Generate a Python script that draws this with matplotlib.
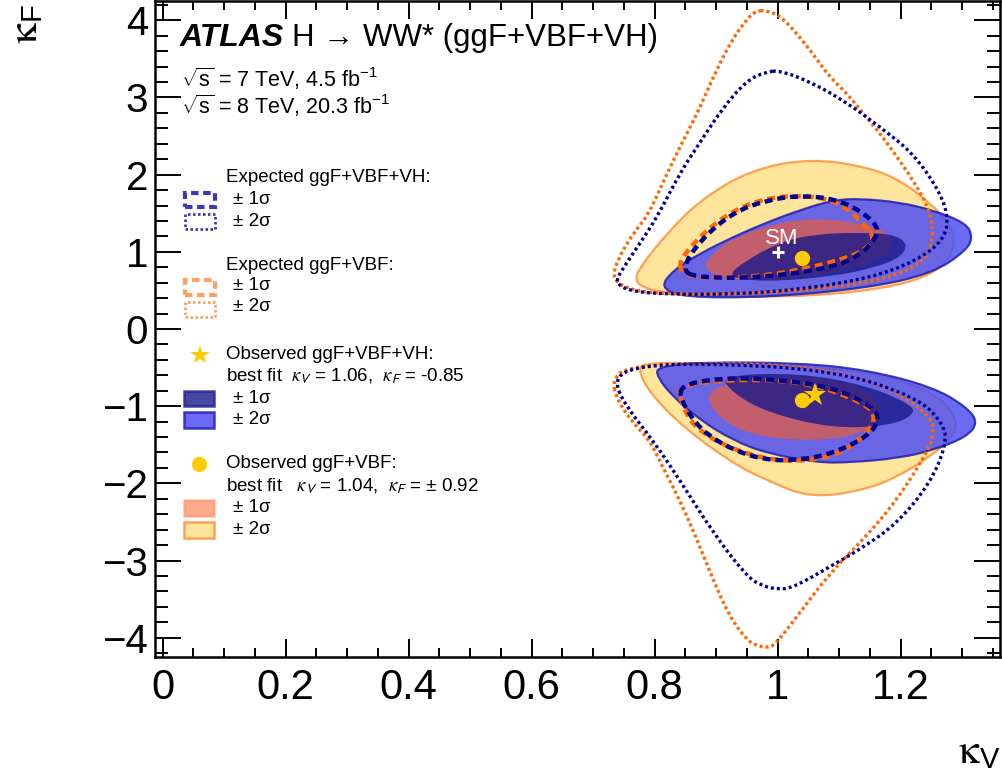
import matplotlib
matplotlib.use("Agg")
import matplotlib.pyplot as plt
from matplotlib import font_manager
from matplotlib.patches import PathPatch, Rectangle
from matplotlib.path import Path
from matplotlib.ticker import MultipleLocator

# contour vertices, (kappa_V, kappa_F)
# observed ggF+VBF+VH, 1 and 2 sigma
obs_vh_1s_pos = [(0.915, 0.67), (0.950, 0.90), (1.009, 1.14), (1.064, 1.23), (1.130, 1.25),
                 (1.188, 1.23), (1.212, 1.10), (1.200, 0.93), (1.160, 0.80), (1.090, 0.68),
                 (0.982, 0.61)]
obs_vh_1s_neg = [(0.906, -0.60), (1.036, -0.57), (1.145, -0.73), (1.220, -0.99), (1.220, -1.12),
                 (1.183, -1.25), (1.090, -1.29), (0.982, -1.08), (0.927, -0.83)]
obs_vh_2s_pos = [(0.809, 0.54), (0.846, 0.41), (0.982, 0.41), (1.145, 0.53), (1.252, 0.72),
                 (1.307, 1.02), (1.317, 1.19), (1.307, 1.37), (1.252, 1.54), (1.199, 1.64),
                 (1.134, 1.69), (1.090, 1.67), (1.036, 1.54), (0.982, 1.38), (0.927, 1.19),
                 (0.874, 0.98), (0.830, 0.76)]
obs_vh_2s_neg = [(0.804, -0.49), (0.874, -0.43), (1.036, -0.44), (1.145, -0.53), (1.252, -0.75),
                 (1.307, -1.01), (1.326, -1.21), (1.307, -1.40), (1.252, -1.57), (1.199, -1.67),
                 (1.118, -1.73), (1.064, -1.73), (0.982, -1.61), (0.927, -1.44), (0.874, -1.18),
                 (0.830, -0.88), (0.804, -0.62)]

# observed ggF+VBF, 1 and 2 sigma
obs_vbf_1s_pos = [(0.877, 0.82), (0.905, 1.05), (0.930, 1.18), (0.980, 1.33), (1.036, 1.42),
                  (1.090, 1.42), (1.140, 1.36), (1.180, 1.24), (1.190, 1.10), (1.170, 0.93),
                  (1.120, 0.78), (1.040, 0.66), (0.960, 0.62), (0.900, 0.68)]
obs_vbf_1s_neg = [(0.879, -0.82), (0.939, -0.66), (1.036, -0.60), (1.134, -0.73), (1.175, -1.05),
                  (1.150, -1.31), (1.085, -1.45), (0.971, -1.41), (0.906, -1.18)]
obs_vbf_2s_pos = [(1.053, 2.21), (1.145, 2.10), (1.199, 1.93), (1.248, 1.63), (1.277, 1.39),
                  (1.289, 1.15), (1.277, 0.87), (1.231, 0.63), (1.134, 0.48), (1.004, 0.41),
                  (0.874, 0.43), (0.809, 0.48), (0.781, 0.54), (0.768, 0.63), (0.776, 0.80),
                  (0.820, 1.24), (0.874, 1.67), (0.955, 2.06)]
obs_vbf_2s_neg = [(0.771, -0.50), (0.792, -0.83), (0.846, -1.27), (0.927, -1.74), (0.982, -1.96),
                  (1.053, -2.19), (1.139, -2.09), (1.194, -1.92), (1.252, -1.63), (1.285, -1.40),
                  (1.293, -1.18), (1.264, -0.88), (1.199, -0.66), (1.118, -0.53), (1.004, -0.47),
                  (0.874, -0.44), (0.792, -0.44)]

# expected ggF+VBF+VH
exp_vh_1s_pos = [(0.842, 0.76), (0.874, 1.15), (0.927, 1.51), (0.982, 1.67), (1.036, 1.73),
                 (1.090, 1.69), (1.134, 1.54), (1.166, 1.31), (1.155, 1.13), (1.134, 0.96),
                 (1.090, 0.80), (0.982, 0.67), (0.874, 0.66)]
exp_vh_1s_neg = [(0.842, -0.73), (0.901, -0.64), (0.982, -0.64), (1.090, -0.75), (1.155, -1.01),
                 (1.166, -1.18), (1.145, -1.40), (1.090, -1.61), (1.036, -1.70), (0.982, -1.70),
                 (0.927, -1.57), (0.874, -1.31), (0.842, -0.92)]
exp_vh_2s_pos = [(1.004, 3.35), (1.057, 3.19), (1.113, 2.93), (1.166, 2.62), (1.220, 2.28),
                 (1.262, 1.80), (1.278, 1.45), (1.270, 1.15), (1.225, 0.88), (1.150, 0.66),
                 (1.036, 0.51), (0.927, 0.45), (0.820, 0.45), (0.760, 0.49), (0.735, 0.60),
                 (0.748, 0.78), (0.776, 1.11), (0.804, 1.45), (0.841, 2.02), (0.869, 2.36),
                 (0.911, 2.87), (0.950, 3.22), (0.980, 3.33)]
exp_vh_2s_neg = [(0.733, -0.66), (0.765, -0.49), (0.874, -0.44), (1.090, -0.53), (1.226, -0.88),
                 (1.269, -1.22), (1.275, -1.48), (1.248, -2.00), (1.194, -2.52), (1.139, -2.83),
                 (1.085, -3.08), (1.030, -3.33), (1.004, -3.38), (0.975, -3.33), (0.950, -3.21),
                 (0.895, -2.64), (0.841, -1.96), (0.797, -1.44), (0.754, -1.01)]

# expected ggF+VBF
exp_vbf_1s_pos = [(0.838, 0.86), (0.874, 1.21), (0.927, 1.54), (0.988, 1.71), (1.053, 1.73),
                  (1.102, 1.63), (1.134, 1.41), (1.158, 1.19), (1.147, 1.06), (1.118, 0.93),
                  (1.036, 0.76), (0.955, 0.67), (0.874, 0.66), (0.846, 0.72)]
exp_vbf_1s_neg = [(0.838, -0.75), (0.901, -0.66), (1.036, -0.66), (1.145, -0.96), (1.161, -1.18),
                  (1.134, -1.44), (1.090, -1.66), (1.009, -1.73), (0.927, -1.57), (0.862, -1.27),
                  (0.842, -0.92)]
exp_vbf_2s_pos = [(0.979, 4.13), (1.004, 4.06), (1.031, 3.83), (1.057, 3.57), (1.085, 3.26),
                  (1.113, 3.05), (1.139, 2.79), (1.166, 2.54), (1.194, 2.23), (1.220, 1.93),
                  (1.245, 1.58), (1.253, 1.28), (1.248, 1.02), (1.231, 0.85), (1.199, 0.72),
                  (1.145, 0.60), (1.036, 0.50), (0.927, 0.45), (0.820, 0.45), (0.762, 0.50),
                  (0.731, 0.64), (0.739, 0.89), (0.765, 1.24), (0.789, 1.47), (0.813, 1.89),
                  (0.841, 2.36), (0.869, 2.79), (0.895, 3.26), (0.922, 3.70), (0.950, 4.02),
                  (0.965, 4.12)]
exp_vbf_2s_neg = [(0.731, -0.66), (0.755, -0.49), (0.874, -0.44), (1.036, -0.47), (1.171, -0.70),
                  (1.252, -1.14), (1.252, -1.35), (1.248, -1.53), (1.194, -2.22), (1.139, -2.73),
                  (1.085, -3.16), (1.031, -3.73), (0.995, -4.10), (0.982, -4.13), (0.965, -4.10),
                  (0.950, -4.03), (0.922, -3.73), (0.895, -3.25), (0.869, -2.73), (0.841, -2.22),
                  (0.813, -1.79), (0.792, -1.44), (0.765, -1.22), (0.739, -0.92)]

sm_point = (1.0, 1.0)
best_fit_vbf = [(1.04, 0.92), (1.04, -0.92)]
best_fit_vh = (1.06, -0.85)

x_ticks = [0, 0.2, 0.4, 0.6, 0.8, 1, 1.2]
x_tick_labels = ["0", "0.2", "0.4", "0.6", "0.8", "1", "1.2"]
y_ticks = [-4, -3, -2, -1, 0, 1, 2, 3, 4]
y_tick_labels = ["\u22124", "\u22123", "\u22122", "\u22121", "0", "1", "2", "3", "4"]

W, H = 1003, 771

plt.rcParams["font.family"] = ["Liberation Sans", "DejaVu Sans"]
plt.rcParams["mathtext.fontset"] = "custom"
plt.rcParams["mathtext.rm"] = "Liberation Sans"
plt.rcParams["mathtext.it"] = "Liberation Sans:italic"
plt.rcParams["mathtext.bf"] = "Liberation Sans:bold"

names = {f.name for f in font_manager.fontManager.ttflist}
tick_font = "Liberation Sans Narrow" if "Liberation Sans Narrow" in names else "Liberation Sans"

yellow_fc, yellow_ec = "#ffe49c", "#ffa050"
blue2_fc, blue2_ec = "#5050f0", "#2020b0"
salmon_fc, salmon_ec = "#ff5a1e", "#ff8040"
dark_fc, dark_ec = "#1a1a8a", "#1a1a99"
navy, orange = "#000090", "#ff6600"
dashed = (0, (1.8, 1.1))
dotted = (0, (0.9, 0.9))


def smooth_path(pts):
    # closed quadratic bezier: read vertices act as control points
    n = len(pts)
    mids = [((pts[i][0] + pts[(i + 1) % n][0]) / 2, (pts[i][1] + pts[(i + 1) % n][1]) / 2)
            for i in range(n)]
    verts = [mids[-1]]
    codes = [Path.MOVETO]
    for i in range(n):
        verts += [pts[i], mids[i]]
        codes += [Path.CURVE3, Path.CURVE3]
    verts.append(mids[-1])
    codes.append(Path.CLOSEPOLY)
    return Path(verts, codes)


fig = plt.figure(figsize=(W / 100, H / 100), dpi=100)
ax = fig.add_axes([155 / W, 1 - 657 / H, (1000 - 155) / W, (657 - 1) / H])


def region(pts, fc, ec, alpha, lw, z):
    ax.add_patch(PathPatch(smooth_path(pts), fc=fc, ec=ec, alpha=alpha, lw=lw, zorder=z))


def contour_line(pts, color, style, lw, z):
    ax.add_patch(PathPatch(smooth_path(pts), fill=False, ec=color, ls=style, lw=lw, zorder=z))


for pts in (obs_vbf_2s_pos, obs_vbf_2s_neg):
    region(pts, yellow_fc, yellow_ec, 1.0, 1.6, 1)
for pts in (obs_vh_2s_pos, obs_vh_2s_neg):
    region(pts, blue2_fc, blue2_ec, 0.85, 1.6, 2)
for pts in (obs_vbf_1s_pos, obs_vbf_1s_neg):
    region(pts, salmon_fc, "none", 0.6, 0, 3)
for pts in (obs_vh_1s_pos, obs_vh_1s_neg):
    region(pts, dark_fc, "none", 0.8, 0, 4)

for pts in (exp_vbf_2s_pos, exp_vbf_2s_neg):
    contour_line(pts, orange, dotted, 2.4, 5)
for pts in (exp_vh_2s_pos, exp_vh_2s_neg):
    contour_line(pts, navy, dotted, 2.4, 6)
for pts in (exp_vbf_1s_pos, exp_vbf_1s_neg):
    contour_line(pts, orange, dashed, 3.2, 7)
for pts in (exp_vh_1s_pos, exp_vh_1s_neg):
    contour_line(pts, navy, dashed, 3.2, 8)

ax.plot(*sm_point, marker="+", color="white", ms=8, mew=2.2, zorder=10)
ax.text(sm_point[0] + 0.006, sm_point[1] + 0.17, "SM", color="white", fontsize=16,
        ha="center", va="center", zorder=10)
for kv, kf in best_fit_vbf:
    ax.plot(kv, kf, marker="o", color="#ffcc00", ms=11, mew=0, zorder=10)
ax.plot(*best_fit_vh, marker="*", color="#ffcc00", ms=17, mew=0, zorder=11)

ax.set_xlim(-0.0125, 1.3615)
ax.set_ylim(-4.25, 4.25)
ax.set_xticks(x_ticks, x_tick_labels)
ax.set_yticks(y_ticks, y_tick_labels)
ax.xaxis.set_minor_locator(MultipleLocator(0.05))
ax.yaxis.set_minor_locator(MultipleLocator(0.2))
ax.tick_params(which="both", direction="in", top=True, right=True, width=1.4, color="black")
ax.tick_params(axis="x", which="major", length=13, labelsize=30, pad=8)
ax.tick_params(axis="x", which="minor", length=6.5)
ax.tick_params(axis="y", which="major", length=19, labelsize=29, pad=5)
ax.tick_params(axis="y", which="minor", length=9.5)
for lab in ax.get_xticklabels() + ax.get_yticklabels():
    lab.set_family(tick_font)
for sp in ax.spines.values():
    sp.set_linewidth(1.8)


def ftext(x, y, s, **kw):
    return fig.text(x / W, 1 - y / H, s, **kw)


def legend_box(x0, y0, x1, y1, **kw):
    fig.add_artist(Rectangle((x0 / W, 1 - y1 / H), (x1 - x0) / W, (y1 - y0) / H,
                             transform=fig.transFigure, **kw))


def legend_marker(x, y, **kw):
    ax.plot(x / W, 1 - y / H, transform=fig.transFigure, clip_on=False, **kw)


# axis titles
ftext(979, 752, "$\\mathrm{\\kappa}_\\mathregular{V}$", fontsize=30, ha="center", va="center",
      math_fontfamily="stix")
ftext(26, 24, "$\\mathrm{\\kappa}_\\mathregular{F}$", fontsize=30, ha="center", va="center",
      rotation=90, math_fontfamily="stix")

# header
ftext(180, 46, "ATLAS", fontsize=23, fontweight="bold", fontstyle="italic", va="baseline")
ftext(292, 46, "H \u2192 WW* (ggF+VBF+VH)", fontsize=22.5, va="baseline")
ftext(181, 87, "$\\sqrt{\\mathregular{s}}$ = 7 TeV, 4.5 fb$^{\\mathregular{-1}}$",
      fontsize=15.5, va="baseline")
ftext(181, 114, "$\\sqrt{\\mathregular{s}}$ = 8 TeV, 20.3 fb$^{\\mathregular{-1}}$",
      fontsize=15.5, va="baseline")

fs = 13.5
kv_txt = "$\\kappa_{\\mathsf{V}}$"
kf_txt = "$\\kappa_{\\mathsf{F}}$"
# expected ggF+VBF+VH
ftext(226, 177, "Expected ggF+VBF+VH:", fontsize=fs, va="center")
ftext(233, 200, "\u00b1 1\u03c3", fontsize=fs, va="center")
ftext(233, 221, "\u00b1 2\u03c3", fontsize=fs, va="center")
legend_box(185, 193, 215, 207, fill=False, ec="#3a3ab8", lw=3.0, ls=dashed)
legend_box(185, 214, 215, 229, fill=False, ec="#3a3ab8", lw=2.0, ls=dotted)
# expected ggF+VBF
ftext(226, 265, "Expected ggF+VBF:", fontsize=fs, va="center")
ftext(233, 286, "\u00b1 1\u03c3", fontsize=fs, va="center")
ftext(233, 307, "\u00b1 2\u03c3", fontsize=fs, va="center")
legend_box(185, 280, 215, 295, fill=False, ec="#ffa060", lw=3.0, ls=dashed)
legend_box(185, 302, 215, 317, fill=False, ec="#ffa060", lw=2.0, ls=dotted)
# observed ggF+VBF+VH
legend_marker(200, 355, marker="*", color="#ffcc00", ms=15, mew=0)
ftext(226, 355, "Observed ggF+VBF+VH:", fontsize=fs, va="center")
ftext(226, 376, "best fit  " + kv_txt + " = 1.06,  " + kf_txt + " = -0.85",
      fontsize=fs, va="center", math_fontfamily="stix")
ftext(233, 398, "\u00b1 1\u03c3", fontsize=fs, va="center")
ftext(233, 420, "\u00b1 2\u03c3", fontsize=fs, va="center")
legend_box(184, 391, 214, 406, fc=dark_fc, ec=dark_ec, alpha=0.8, lw=1.8)
legend_box(184, 412, 214, 428, fc=blue2_fc, ec="#2020c0", alpha=0.85, lw=1.8)
# observed ggF+VBF
legend_marker(199, 464, marker="o", color="#ffcc00", ms=11, mew=0)
ftext(226, 464, "Observed ggF+VBF:", fontsize=fs, va="center")
ftext(226, 486, "best fit   " + kv_txt + " = 1.04,  " + kf_txt + " = \u00b1 0.92",
      fontsize=fs, va="center", math_fontfamily="stix")
ftext(233, 508, "\u00b1 1\u03c3", fontsize=fs, va="center")
ftext(233, 530, "\u00b1 2\u03c3", fontsize=fs, va="center")
legend_box(184, 500, 214, 516, fc=salmon_fc, ec=salmon_ec, alpha=0.5, lw=1.8)
legend_box(184, 522, 214, 538, fc=yellow_fc, ec=yellow_ec, lw=1.8)

fig.savefig("out.png", dpi=100)
